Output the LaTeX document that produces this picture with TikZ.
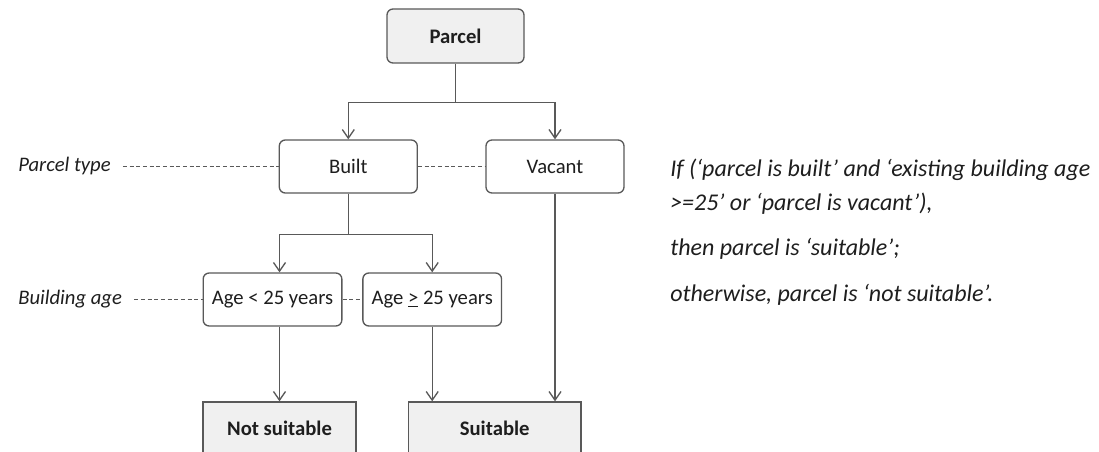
\documentclass[tikz,border=0pt]{standalone}
\usepackage{fontspec}
\setmainfont{Carlito}
\usetikzlibrary{arrows.meta}

\definecolor{linegray}{HTML}{595959}
\definecolor{boxfill}{HTML}{F0F0F0}
\definecolor{textdark}{HTML}{1E1E1E}

\begin{document}
\begin{tikzpicture}[x=0.75pt, y=-0.75pt,
    box/.style={draw=linegray, line width=1pt, fill=white, text=textdark, minimum height=39.75pt, font=\fontsize{15.5}{18}\selectfont},
    choice/.style={box, rounded corners=4.5pt},
    result/.style={box, fill=boxfill, font=\fontsize{15.5}{18}\selectfont\bfseries},
    link/.style={draw=linegray, line width=1pt, -{Straight Barb[length=6.5pt,width=9pt]}},
    guide/.style={draw=linegray, line width=0.8pt, dash pattern=on 3pt off 2pt},
    side/.style={text=textdark, font=\fontsize{15.5}{18}\selectfont\itshape, inner sep=0pt, anchor=base west},
    rule/.style={text=textdark, font=\fontsize{18}{21}\selectfont\itshape, inner sep=0pt, anchor=base west}]
    %frame
    \useasboundingbox (0,0) rectangle (1099,452);

    %boxes
    \node[result, rounded corners=4.5pt, minimum width=102.75pt, minimum height=40.5pt] (parcel) at (455.5,36) {Parcel};
    \node[choice, minimum width=103.5pt] (built) at (348.3,166.5) {Built};
    \node[choice, minimum width=103.5pt] (vacant) at (555,166.5) {Vacant};
    \node[choice, minimum width=104pt] (young) at (272.5,299.5) {Age < 25 years};
    \node[choice, minimum width=104pt] (old) at (432.2,299.5) {Age \underline{>} 25 years};
    \node[result, minimum width=114.75pt] (unfit) at (279.5,428.5) {Not suitable};
    \node[result, minimum width=129.5pt] (fit) at (494.7,428.5) {Suitable};

    %arrows
    \draw[link] (parcel.south) -- ++(0,39) -| (built.north);
    \draw[link] (parcel.south) -- ++(0,39) -| (vacant.north);
    \draw[link] (built.south) -- ++(0,41) -| (young.north -| unfit.north);
    \draw[link] (built.south) -- ++(0,41) -| (old.north);
    \draw[link] (young.south -| unfit.north) -- (unfit.north);
    \draw[link] (old.south) -- (old.south |- fit.north);
    \draw[link] (vacant.south) -- (vacant.south |- fit.north);

    %levels
    \node[side] (typelbl) at (18,172) {Parcel type};
    \node[side] (agelbl) at (18,305) {Building age};
    \draw[guide, shorten <=9pt] (built.west -| typelbl.east) -- (built.west);
    \draw[guide] (built.east) -- (vacant.west);
    \draw[guide, shorten <=9pt] (young.west -| agelbl.east) -- (young.west);
    \draw[guide] (young.east) -- (old.west);

    %rule
    \node[rule] (rulea) at (670,176.7) {If (‘parcel is built’ and ‘existing building age};
    \node[rule] (ruleb) at (670,210.7) {>=25’ or ‘parcel is vacant’),};
    \node[rule] (rulec) at (670,256) {then parcel is ‘suitable’;};
    \node[rule] (ruled) at (670,301.7) {otherwise, parcel is ‘not suitable’.};
\end{tikzpicture}
\end{document}
